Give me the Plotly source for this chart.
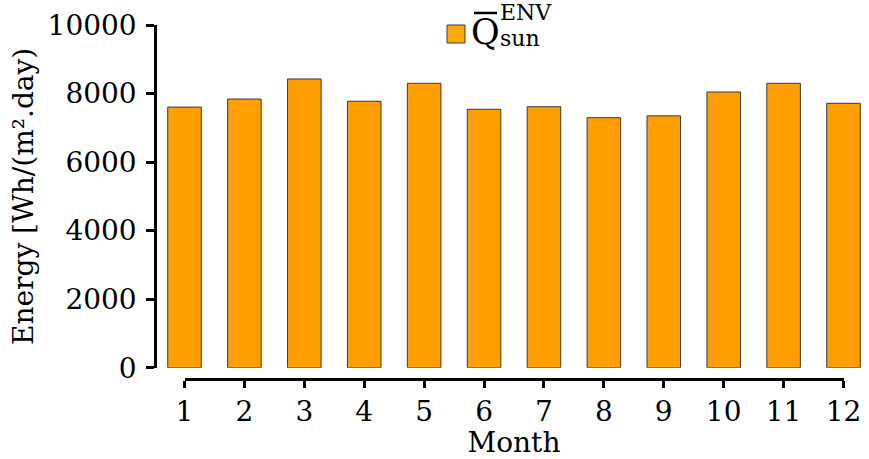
import plotly.graph_objects as go

months = [1, 2, 3, 4, 5, 6, 7, 8, 9, 10, 11, 12]
energy = [7605, 7840, 8425, 7775, 8300, 7540, 7615, 7295, 7350, 8045, 8300, 7715]
y_ticks = [0, 2000, 4000, 6000, 8000, 10000]
y_title = "Energy [Wh/(m².day)"
x_title = "Month"

W, H = 869, 459
FONT = "DejaVu Serif"
BAR = "#FF9E00"


def px(x):
    return x / W


def py(y):
    return (H - y) / H


# pixel layout of the reference
m1, m12 = 184.5, 843.5
step = (m12 - m1) / 11
y0, y1 = 367.7, 25.0
yaxis_x = 155.0
xaxis_y = 379.0

fig = go.Figure()
fig.add_trace(go.Bar(
    x=months, y=energy, width=0.56,
    marker=dict(color=BAR, line=dict(color="#3a3a3a", width=1)),
    showlegend=False, hoverinfo="x+y",
))
fig.add_trace(go.Scatter(
    x=months, y=[None] * len(months), xaxis="x2", yaxis="y",
    mode="markers", marker=dict(opacity=0), showlegend=False, hoverinfo="skip",
))

fig.update_layout(
    width=W, height=H,
    margin=dict(l=0, r=0, t=0, b=0, autoexpand=False),
    paper_bgcolor="white", plot_bgcolor="rgba(0,0,0,0)",
    font=dict(family=FONT, size=28, color="black"),
    xaxis=dict(
        domain=[0, 1],
        range=[1 - m1 / step, 12 + (W - m12) / step],
        visible=False, automargin=False,
    ),
    xaxis2=dict(
        domain=[px(m1), px(m12)], range=[1, 12],
        anchor="free", position=py(xaxis_y), automargin=False,
        showline=True, linecolor="black", linewidth=2.5,
        ticks="outside", ticklen=7, tickwidth=2.5, tickcolor="black",
        tickvals=months, ticktext=[str(m) for m in months],
        showgrid=False, zeroline=False,
        tickfont=dict(family=FONT, size=28),
        title=dict(text=x_title, font=dict(family=FONT, size=28), standoff=2),
    ),
    yaxis=dict(
        domain=[py(y0), py(y1)], range=[0, 10000],
        anchor="free", position=px(yaxis_x), automargin=False,
        showline=True, linecolor="black", linewidth=2.5,
        ticks="outside", ticklen=8, tickwidth=2.5, tickcolor="black",
        tickvals=y_ticks, ticktext=[str(v) for v in y_ticks],
        ticklabelstandoff=4,
        showgrid=False, zeroline=False,
        tickfont=dict(family=FONT, size=28),
        title=dict(text=y_title, font=dict(family=FONT, size=28), standoff=4),
    ),
)

# legend (drawn manually to reproduce the stacked super/subscript)
fig.add_shape(type="rect", xref="paper", yref="paper",
              x0=px(447), x1=px(465), y0=py(43), y1=py(25),
              fillcolor="#FFAA00", line=dict(color="#3a3a3a", width=1))
fig.add_shape(type="line", xref="paper", yref="paper",
              x0=px(474), x1=px(497), y0=py(13), y1=py(13),
              line=dict(color="black", width=2.5))
fig.add_annotation(text="Q", xref="paper", yref="paper", x=px(485.5), y=py(32),
                   xanchor="center", yanchor="middle", showarrow=False, borderpad=0,
                   font=dict(family=FONT, size=35, color="black"))
fig.add_annotation(text="ENV", xref="paper", yref="paper", x=px(499), y=py(12),
                   xanchor="left", yanchor="middle", showarrow=False, borderpad=0,
                   font=dict(family=FONT, size=22, color="black"))
fig.add_annotation(text="sun", xref="paper", yref="paper", x=px(499), y=py(38),
                   xanchor="left", yanchor="middle", showarrow=False, borderpad=0,
                   font=dict(family=FONT, size=22, color="black"))

fig.write_html(
    "out.html",
    config={"displayModeBar": False},
    post_script="document.body.style.margin='0';document.body.style.padding='0';"
                "document.body.style.overflow='hidden';",
)
